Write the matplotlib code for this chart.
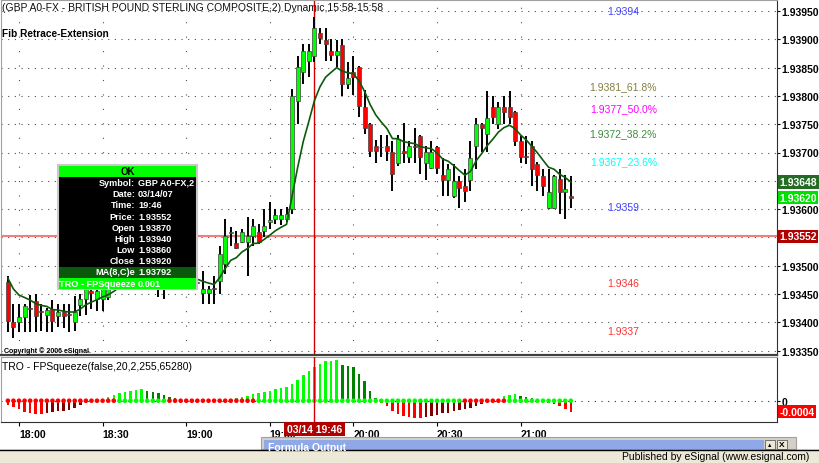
import numpy as np
import matplotlib
matplotlib.use("Agg")
import matplotlib.pyplot as plt
from matplotlib.patches import Rectangle
from matplotlib.transforms import blended_transform_factory

plt.rcParams['font.family'] = ['Liberation Sans', 'DejaVu Sans']

W, H = 819, 464

# GBP A0-FX, 2 minute bars, first bar 17:56
first_bar = "17:56"
bar_step = 2

opens = [1.93471, 1.93401, 1.93401, 1.93409, 1.93424, 1.93437, 1.93419, 1.93413, 1.93423, 1.93412,
         1.93419, 1.93414, 1.93400, 1.93431, 1.93441, 1.93455, 1.93441, 1.93441, 1.93445, 1.93462,
         1.93475, 1.93488, 1.93482, 1.93498, 1.93505, 1.93495, 1.93500, 1.93488, 1.93478, 1.93482,
         1.93475, 1.93480, 1.93472, 1.93478, 1.93470, 1.93452, 1.93452, 1.93460, 1.93473, 1.93503,
         1.93558, 1.93540, 1.93542, 1.93542, 1.93552, 1.93559, 1.93561, 1.93578, 1.93582, 1.93582,
         1.93582, 1.93600, 1.93791, 1.93842, 1.93862, 1.93870, 1.93911, 1.93899, 1.93879, 1.93872,
         1.93890, 1.93821, 1.93842, 1.93851, 1.93780, 1.93750, 1.93711, 1.93710, 1.93711, 1.93701,
         1.93681, 1.93702, 1.93692, 1.93711, 1.93729, 1.93681, 1.93673, 1.93710, 1.93660, 1.93651,
         1.93623, 1.93650, 1.93641, 1.93651, 1.93711, 1.93750, 1.93733, 1.93780, 1.93750, 1.93780,
         1.93780, 1.93772, 1.93720, 1.93693, 1.93711, 1.93680, 1.93658, 1.93602, 1.93602, 1.93653,
         1.93630, 1.93623]
highs = [1.93482, 1.93432, 1.93432, 1.93432, 1.93449, 1.93450, 1.93432, 1.93426, 1.93439, 1.93432,
         1.93432, 1.93432, 1.93447, 1.93450, 1.93470, 1.93460, 1.93470, 1.93478, 1.93480, 1.93482,
         1.93495, 1.93500, 1.93508, 1.93515, 1.93512, 1.93510, 1.93505, 1.93495, 1.93492, 1.93490,
         1.93488, 1.93486, 1.93485, 1.93484, 1.93482, 1.93491, 1.93464, 1.93482, 1.93535, 1.93582,
         1.93568, 1.93561, 1.93565, 1.93586, 1.93582, 1.93574, 1.93600, 1.93612, 1.93600, 1.93600,
         1.93604, 1.93812, 1.93870, 1.93892, 1.93892, 1.93940, 1.93920, 1.93920, 1.93900, 1.93899,
         1.93900, 1.93860, 1.93870, 1.93853, 1.93810, 1.93752, 1.93722, 1.93731, 1.93731, 1.93720,
         1.93731, 1.93752, 1.93720, 1.93743, 1.93731, 1.93711, 1.93720, 1.93711, 1.93690, 1.93680,
         1.93680, 1.93658, 1.93671, 1.93720, 1.93761, 1.93752, 1.93809, 1.93800, 1.93789, 1.93800,
         1.93809, 1.93773, 1.93729, 1.93729, 1.93720, 1.93683, 1.93671, 1.93671, 1.93660, 1.93671,
         1.93660, 1.93658]
lows = [1.93382, 1.93373, 1.93382, 1.93382, 1.93382, 1.93382, 1.93384, 1.93382, 1.93382, 1.93391,
        1.93390, 1.93382, 1.93384, 1.93412, 1.93413, 1.93424, 1.93420, 1.93420, 1.93440, 1.93458,
        1.93468, 1.93472, 1.93475, 1.93488, 1.93485, 1.93480, 1.93470, 1.93445, 1.93442, 1.93462,
        1.93462, 1.93460, 1.93462, 1.93462, 1.93460, 1.93432, 1.93432, 1.93432, 1.93450, 1.93485,
        1.93535, 1.93529, 1.93540, 1.93482, 1.93535, 1.93538, 1.93551, 1.93565, 1.93574, 1.93572,
        1.93578, 1.93591, 1.93750, 1.93821, 1.93833, 1.93860, 1.93892, 1.93862, 1.93862, 1.93851,
        1.93800, 1.93812, 1.93802, 1.93763, 1.93733, 1.93692, 1.93681, 1.93692, 1.93685, 1.93632,
        1.93676, 1.93681, 1.93681, 1.93681, 1.93662, 1.93651, 1.93671, 1.93662, 1.93623, 1.93623,
        1.93620, 1.93602, 1.93612, 1.93632, 1.93671, 1.93701, 1.93701, 1.93750, 1.93742, 1.93750,
        1.93750, 1.93711, 1.93681, 1.93680, 1.93641, 1.93632, 1.93623, 1.93600, 1.93600, 1.93591,
        1.93583, 1.93602]
closes = [1.93403, 1.93392, 1.93410, 1.93429, 1.93423, 1.93412, 1.93418, 1.93422, 1.93403, 1.93419,
          1.93412, 1.93413, 1.93419, 1.93441, 1.93458, 1.93452, 1.93455, 1.93462, 1.93462, 1.93475,
          1.93488, 1.93482, 1.93498, 1.93505, 1.93495, 1.93500, 1.93488, 1.93478, 1.93482, 1.93475,
          1.93480, 1.93472, 1.93478, 1.93470, 1.93472, 1.93459, 1.93459, 1.93458, 1.93521, 1.93552,
          1.93560, 1.93531, 1.93559, 1.93552, 1.93570, 1.93542, 1.93570, 1.93580, 1.93589, 1.93589,
          1.93591, 1.93800, 1.93851, 1.93879, 1.93879, 1.93920, 1.93902, 1.93892, 1.93872, 1.93879,
          1.93821, 1.93832, 1.93833, 1.93782, 1.93743, 1.93703, 1.93703, 1.93709, 1.93703, 1.93662,
          1.93724, 1.93700, 1.93711, 1.93710, 1.93692, 1.93701, 1.93701, 1.93673, 1.93651, 1.93671,
          1.93650, 1.93637, 1.93632, 1.93690, 1.93750, 1.93743, 1.93761, 1.93763, 1.93780, 1.93772,
          1.93763, 1.93720, 1.93692, 1.93692, 1.93671, 1.93660, 1.93641, 1.93630, 1.93658, 1.93630,
          1.93636, 1.93620]

ma_len = 8
ma_first = 1.93478  # MA value on the first visible bar

# TRO FPSqueeze histogram (x 1e-4) and squeeze dots (1 = red / squeeze on)
sqz_values = [-1.5, -2.2, -2.9, -4.0, -4.4, -4.7, -4.8, -4.4, -4.0, -3.9,
              -3.6, -3.3, -2.5, -1.5, -0.7, -0.4, 0.0, 0.7, 1.5, 2.2,
              2.9, 3.3, 3.6, 4.0, 4.1, 3.6, 3.3, 2.9, 2.2, 1.5,
              1.1, 0.4, 0.1, 0.0, 0.0, 0.0, 0.0, 0.1, 0.2, 0.4,
              0.7, 1.1, 1.5, 1.8, 2.5, 2.9, 3.3, 3.6, 4.4, 4.7,
              5.1, 6.2, 7.6, 9.5, 10.9, 12.4, 13.5, 14.5, 14.6, 14.7,
              13.1, 12.7, 12.4, 9.8, 7.3, 3.6, 1.1, -0.7, -1.8, -3.6,
              -4.7, -5.5, -5.8, -6.2, -6.3, -5.8, -5.5, -5.1, -4.4, -4.3,
              -3.6, -3.3, -2.9, -2.5, -1.8, -1.1, -0.4, 0.0, 0.7, 1.8,
              2.2, 2.3, 1.8, 1.5, 1.1, 0.7, 0.0, -0.7, -1.1, -1.8,
              -2.9, -4.0]
sqz_on = [1] * 20 + [0] * 9 + [1] * 16 + [0] * 37 + [1] * 8 + [0] * 12

price_ticks = [1.93350, 1.93400, 1.93450, 1.93500, 1.93550, 1.93600, 1.93650,
               1.93700, 1.93750, 1.93800, 1.93850, 1.93900, 1.93950]
time_labels = ["18:00", "18:30", "19:00", "19:30", "20:00", "20:30", "21:00"]

fib_texts = ["1.9394", "1.9381_61.8%", "1.9377_50.0%", "1.9372_38.2%",
             "1.9367_23.6%", "1.9359", "1.9346", "1.9337"]
fib_text_y = [1.93950, 1.93817, 1.93778, 1.93734, 1.93685, 1.93604, 1.93469, 1.93384]
fib_colors = ["#4040ff", "#808040", "#ff00ff", "#3c8c3c", "#00ffff", "#4040ff",
              "#ff3030", "#ff3030"]

cursor_bar = 55
cursor_price = 1.93552


def to_min(hhmm):
    h, m = hhmm.split(":")
    return int(h) * 60 + int(m)


def fig_rect(x0, y0, x1, y1):
    return [x0 / W, 1 - y1 / H, (x1 - x0) / W, (y1 - y0) / H]


o = np.array(opens)
hi = np.array(highs)
lo = np.array(lows)
c = np.array(closes)
idx = np.arange(len(c))

k = 2 / (ma_len + 1)
ma = [ma_first]
for v in c[1:]:
    ma.append(ma[-1] + k * (v - ma[-1]))
ma = np.array(ma)

sq = np.array(sqz_values) * 1e-4
prev = np.r_[sq[0], sq[:-1]]
bar_cols = np.where(sq >= 0, np.where(sq >= prev, "#00ff00", "#008000"),
                    np.where(sq <= prev, "#ff0000", "#800000"))

fig = plt.figure(figsize=(W / 100, H / 100), dpi=100)
fig.patch.set_facecolor("white")

# pixel -> data scales
px_per_bar = 5.574
x_first = 7.85
xlim = ((1 - x_first) / px_per_bar, (777 - x_first) / px_per_bar)
ppx = 0.0005 / 28.3
ylim = (1.9395 - (356 - 12) * ppx, 1.9395 + 11 * ppx)

ax = fig.add_axes(fig_rect(1, 1, 777, 356))
ax.set_xlim(*xlim)
ax.set_ylim(*ylim)

tick_idx = [(to_min(t) - to_min(first_bar)) / bar_step for t in time_labels]

for p in price_ticks:
    ax.axhline(p, color="#505050", lw=0.8, ls=(0, (1, 5)), zorder=1)
for t in tick_idx:
    ax.axvline(t, color="#505050", lw=0.8, ls=(0, (1, 12)), zorder=1)

ax.axhline(cursor_price, color="#f08080", lw=1.5, zorder=2)
ax.axvline(cursor_bar, color="#d00000", lw=1, zorder=2)

ax.vlines(idx, lo, hi, color="black", lw=1.4, zorder=3)
body_lo = np.minimum(o, c)
body_h = np.maximum(np.abs(c - o), 0.000015)
body_col = np.where(c > o, "#00ff00", np.where(c < o, "#ff0000", "black"))
ax.bar(idx, body_h, bottom=body_lo, width=0.72, color=body_col,
       edgecolor="#404040", lw=0.5, zorder=4)
ax.plot(idx, ma, color="#0b5a0b", lw=1.2, zorder=5)

# right-hand flags cover the tick labels that sit under them
flagged = [ma[-1], c[-1], cursor_price]
ax.set_xticks([])
ax.yaxis.tick_right()
ax.set_yticks(price_ticks)
ax.set_yticklabels(["" if min(abs(p - f) for f in flagged) < 0.0001 else f"{p:.5f}"
                    for p in price_ticks])
ax.tick_params(axis="y", length=2, pad=1, labelsize=7.5, colors="black")
for lab in ax.get_yticklabels():
    lab.set_fontweight("bold")
for s in ["left", "top"]:
    ax.spines[s].set_color("#a0a0a0")
ax.spines["right"].set_color("#303030")
ax.spines["bottom"].set_color("#404040")
ax.spines["bottom"].set_linewidth(1.6)

yt = blended_transform_factory(ax.transAxes, ax.transData)
for txt, yy, col in zip(fib_texts, fib_text_y, fib_colors):
    ax.text(0.802, yy, txt, color=col, fontsize=7.5, ha="center", va="center",
            transform=yt, zorder=6)

box_kw = dict(fontsize=7.5, fontweight="bold", color="white", va="center",
              ha="left", transform=yt, clip_on=False, zorder=7)
ax.text(1.003, ma[-1], f"{ma[-1]:.5f}",
        bbox=dict(boxstyle="square,pad=0.15", fc="#246b24", ec="none"), **box_kw)
ax.text(1.003, c[-1], f"{c[-1]:.5f}",
        bbox=dict(boxstyle="square,pad=0.15", fc="#00e000", ec="none"), **box_kw)
ax.text(1.003, cursor_price, f"{cursor_price:.5f}",
        bbox=dict(boxstyle="square,pad=0.15", fc="#b00000", ec="none"), **box_kw)

# lower panel: squeeze
ax2 = fig.add_axes(fig_rect(1, 358, 777, 423))
ax2.set_xlim(*xlim)
ax2.set_ylim(-7.74e-4, 15.9e-4)
ax2.axhline(0, color="#303030", lw=0.8, ls=(0, (1, 5)), zorder=1)
ax2.bar(idx, sq, width=0.45, color=bar_cols, zorder=2)
dot_cols = ["#ff0000" if s else "#00ff00" for s in sqz_on]
ax2.scatter(idx, np.zeros(len(idx)), s=11, c=dot_cols, lw=0, zorder=3)
ax2.axvline(cursor_bar, color="#d00000", lw=1, zorder=4)
ax2.yaxis.tick_right()
ax2.set_yticks([0])
ax2.set_yticklabels(["0"])
ax2.tick_params(axis="y", length=2, pad=1, labelsize=7.5)
for lab in ax2.get_yticklabels():
    lab.set_fontweight("bold")
ax2.set_xticks(tick_idx)
ax2.set_xticklabels(time_labels)
ax2.tick_params(axis="x", length=3, pad=2, labelsize=7.5)
for lab in ax2.get_xticklabels():
    lab.set_fontweight("bold")
    lab.set_horizontalalignment("left")
for s in ["left", "top"]:
    ax2.spines[s].set_color("#a0a0a0")
ax2.spines["right"].set_color("#303030")
ax2.spines["bottom"].set_color("#303030")
yt2 = blended_transform_factory(ax2.transAxes, ax2.transData)
ax2.text(1.003, sq[-1], f"{sq[-1]:.4f}", fontsize=7.5, fontweight="bold",
         color="white", va="center", ha="left", transform=yt2, clip_on=False,
         bbox=dict(boxstyle="square,pad=0.15", fc="#ff0000", ec="none"))

# overlay in pixel coordinates for window chrome and the cursor box
ov = fig.add_axes([0, 0, 1, 1], zorder=10)
ov.set_xlim(0, W)
ov.set_ylim(H, 0)
ov.axis("off")

ov.text(2, 8, "(GBP A0-FX - BRITISH POUND STERLING COMPOSITE,2) Dynamic,15:58-15:58",
        fontsize=7.5, va="center", ha="left", color="#101010")
ov.text(2, 34, "Fib Retrace-Extension", fontsize=7.3, fontweight="bold", va="center")
ov.text(4, 351, "Copyright \u00a9 2006 eSignal.", fontsize=5, fontweight="bold", va="center")
ov.text(2, 367, "TRO - FPSqueeze(false,20,2,255,65280)", fontsize=7.5, va="center")

# cursor data window
fs_box = 6.6
bx0, by0, bx1 = 58, 166, 197
ov.add_patch(Rectangle((bx0, by0), bx1 - bx0, 124, fc="black", ec="#c8c8c8", lw=1.5))
ov.add_patch(Rectangle((bx0 + 1, by0 + 1), bx1 - bx0 - 2, 11, fc="#00ff00", ec="none"))
ov.text((bx0 + bx1) / 2, by0 + 6.5, "OK", fontsize=fs_box + 0.4, fontweight="bold",
        ha="center", va="center")
bar_time = to_min(first_bar) + bar_step * cursor_bar
rows = [("Symbol:", "GBP A0-FX,2"), ("Date:", "03/14/07"),
        ("Time:", f"{bar_time // 60}:{bar_time % 60:02d}"),
        ("Price:", f"{cursor_price:.5f}"), ("Open", f"{o[cursor_bar]:.5f}"),
        ("High", f"{hi[cursor_bar]:.5f}"), ("Low", f"{lo[cursor_bar]:.5f}"),
        ("Close", f"{c[cursor_bar]:.5f}")]
for r, (lab, val) in enumerate(rows):
    yy = 183.5 + r * 11.2
    ov.text(135, yy, lab, fontsize=fs_box, fontweight="bold", color="white", ha="right", va="center")
    ov.text(138, yy, val, fontsize=fs_box, fontweight="bold", color="white", ha="left", va="center")
ov.add_patch(Rectangle((bx0 + 1, 267.5), bx1 - bx0 - 2, 11.5, fc="#0b5a0b", ec="none"))
ov.text(135, 273, "MA(8,C)e", fontsize=fs_box, fontweight="bold", color="white", ha="right", va="center")
ov.text(138, 273, f"{ma[cursor_bar]:.5f}", fontsize=fs_box, fontweight="bold", color="white",
        ha="left", va="center")
ov.add_patch(Rectangle((bx0 + 1, 279), bx1 - bx0 - 2, 10.5, fc="#00ff00", ec="none"))
ov.text(135, 284.5, "TRO - FPSqueeze", fontsize=fs_box, fontweight="bold", color="white",
        ha="right", va="center")
ov.text(138, 284.5, f"{sq[cursor_bar]:.3f}", fontsize=fs_box, fontweight="bold", color="white",
        ha="left", va="center")

# cursor time flag
ov.add_patch(Rectangle((284, 423), 61, 14, fc="#b00000", ec="none"))
ov.text(314.5, 430.5, f"03/14 {bar_time // 60}:{bar_time % 60:02d}", fontsize=7.5,
        fontweight="bold", color="white", ha="center", va="center")

# bottom window chrome
ov.add_patch(Rectangle((0, 450), W, 14, fc="#ece9d8", ec="none"))
ov.add_patch(Rectangle((261, 438), 535, 12, fc="#d4d0c8", ec="#a0a0a0", lw=0.8))
ov.add_patch(Rectangle((264, 441), 500, 9, fc="#8fa9e8", ec="none"))
ov.text(268, 448, "Formula Output", fontsize=7.5, fontweight="bold", color="white", va="center")
ov.add_patch(Rectangle((765, 441), 10, 9, fc="#ece9d8", ec="#606060", lw=0.6))
ov.add_patch(Rectangle((777, 441), 10, 9, fc="#ece9d8", ec="#606060", lw=0.6))
ov.text(770, 446, "\u25b2", fontsize=4, ha="center", va="center")
ov.text(782, 446, "X", fontsize=6, fontweight="bold", ha="center", va="center")
ov.plot([0, W], [450.5, 450.5], color="black", lw=1)
ov.text(809, 457.5, "Published by eSignal (www.esignal.com)", fontsize=7.5,
        ha="right", va="center")

fig.savefig("out.png", dpi=100)
